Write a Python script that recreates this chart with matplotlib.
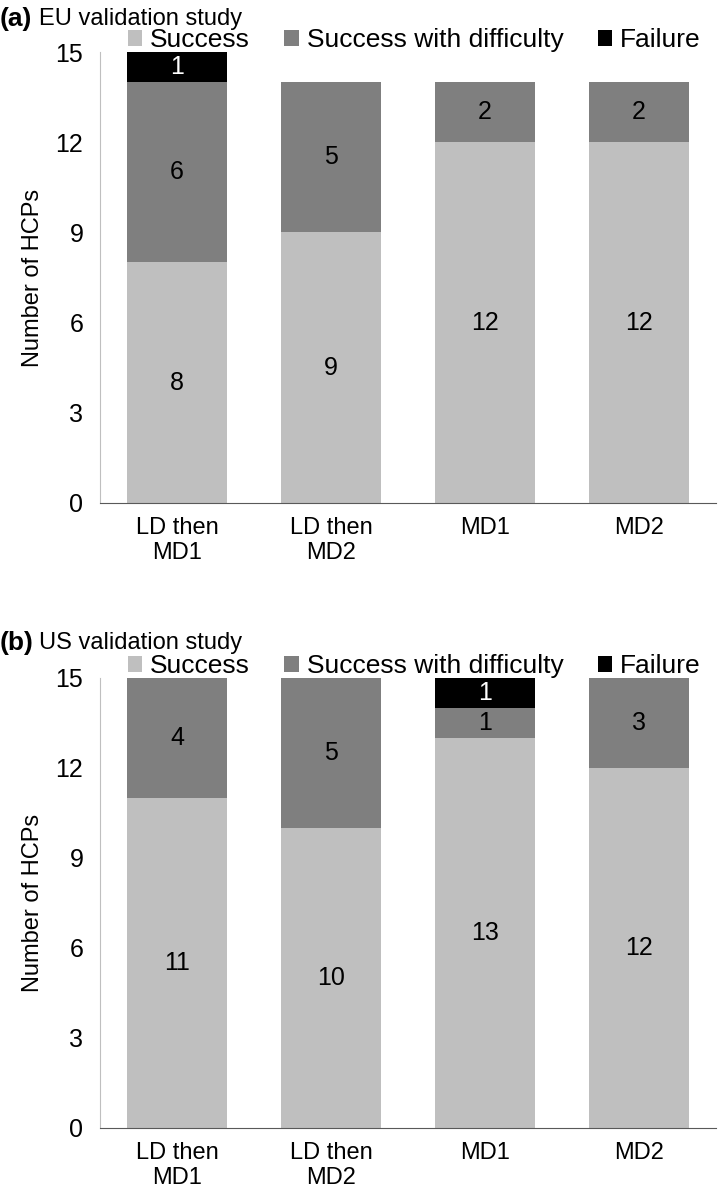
import matplotlib.pyplot as plt
from matplotlib.patches import Patch

plt.rcParams['font.family'] = ['Liberation Sans', 'DejaVu Sans']

categories = ['LD then\nMD1', 'LD then\nMD2', 'MD1', 'MD2']
series_names = ['Success', 'Success with difficulty', 'Failure']
colors = ['#bfbfbf', '#7f7f7f', '#000000']
label_colors = ['black', 'black', 'white']

eu_success = [8, 9, 12, 12]
eu_difficulty = [6, 5, 2, 2]
eu_failure = [1, 0, 0, 0]

us_success = [11, 10, 13, 12]
us_difficulty = [4, 5, 1, 3]
us_failure = [0, 0, 1, 0]

panels = [
    ('(a)', 'EU validation study', [eu_success, eu_difficulty, eu_failure]),
    ('(b)', 'US validation study', [us_success, us_difficulty, us_failure]),
]

fig = plt.figure(figsize=(7.18, 11.93), dpi=100)
ax_rects = [[0.1393, 0.5784, 0.858, 0.378], [0.1393, 0.0545, 0.858, 0.3772]]
title_y = [1 - 19 / 1193, 1 - 643 / 1193]

for (tag, title, series), rect, ty in zip(panels, ax_rects, title_y):
    ax = fig.add_axes(rect)
    x = range(len(categories))
    bottom = [0] * len(categories)
    for vals, c, lc in zip(series, colors, label_colors):
        ax.bar(x, vals, bottom=bottom, width=0.655, color=c)
        for i, v in enumerate(vals):
            if v > 0:
                ax.text(i, bottom[i] + v / 2, str(v), ha='center', va='center',
                        fontsize=18, color=lc)
        bottom = [b + v for b, v in zip(bottom, vals)]
    ax.set_xlim(-0.5, 3.5)
    ax.set_ylim(0, 15)
    ax.set_yticks([0, 3, 6, 9, 12, 15])
    ax.set_xticks(list(x))
    ax.set_xticklabels(categories)
    ax.tick_params(length=0, labelsize=17, pad=10)
    ax.tick_params(axis='y', labelsize=18, pad=12)
    ax.spines['top'].set_visible(False)
    ax.spines['right'].set_visible(False)
    ax.spines['left'].set_color('#bfbfbf')
    ax.spines['bottom'].set_color('#595959')
    ax.set_ylabel('Number of HCPs', fontsize=17, labelpad=8)

    handles = [Patch(facecolor=c) for c in colors]
    ax.legend(handles, series_names, loc='center', bbox_to_anchor=(0.51, 1.026),
              ncol=3, frameon=False, fontsize=19, handlelength=0.55, handleheight=0.55,
              handletextpad=0.3, columnspacing=1.3)

    fig.text(0.0, ty, tag, fontsize=19, fontweight='bold', va='center', ha='left')
    fig.text(39 / 718, ty, title, fontsize=17, va='center', ha='left')

plt.savefig('out.png', dpi=100)
